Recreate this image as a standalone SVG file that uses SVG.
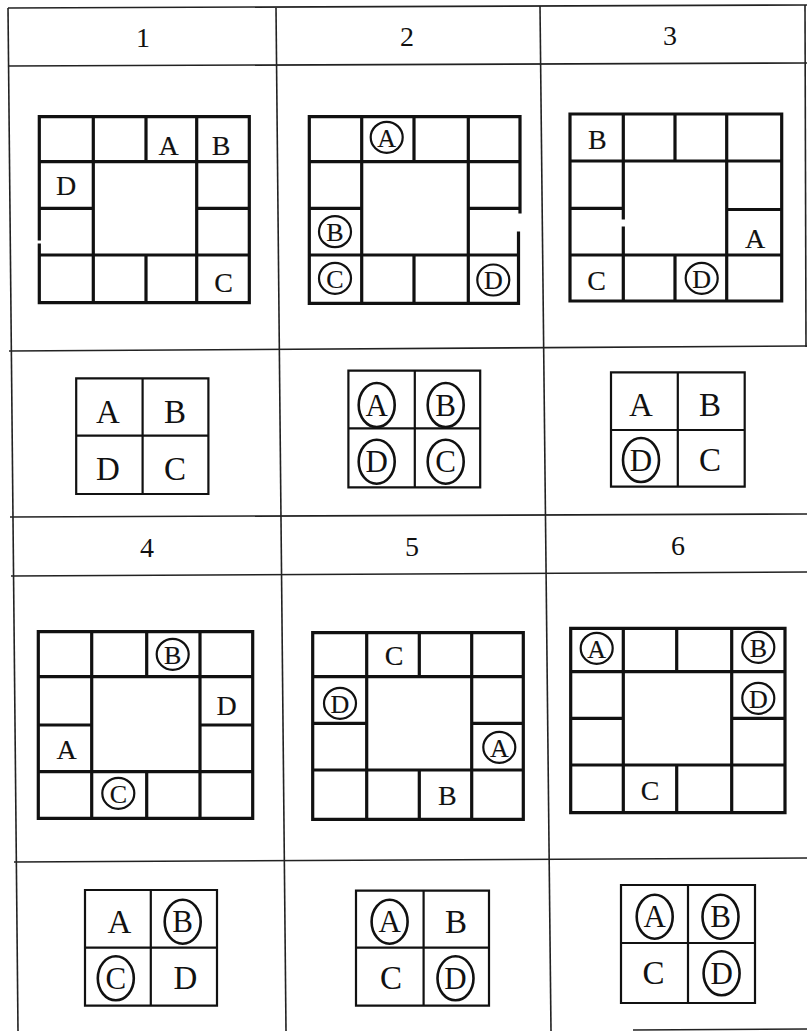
<svg xmlns="http://www.w3.org/2000/svg" width="807" height="1032" viewBox="0 0 807 1032">
<style>
.tbl{fill:none;stroke:#222;stroke-width:1.6}
.big{fill:none;stroke:#111;stroke-width:3.2;stroke-linecap:square}
.sm{fill:none;stroke:#111;stroke-width:2.2}
.hd{font-family:"Liberation Serif",serif;font-size:28px;fill:#111;text-anchor:middle}
.lt{font-family:"Liberation Serif",serif;font-size:28px;fill:#111;stroke:#111;stroke-width:0.15;text-anchor:middle}
.lc{font-family:"Liberation Serif",serif;font-size:26px;fill:#111;stroke:#111;stroke-width:0.15;text-anchor:middle}
.ls{font-family:"Liberation Serif",serif;font-size:33px;fill:#111;text-anchor:middle}
.lsc{font-family:"Liberation Serif",serif;font-size:31px;fill:#111;text-anchor:middle}
.cb{fill:none;stroke:#111;stroke-width:2.2}
.cs{fill:none;stroke:#111;stroke-width:2.6}
</style>
<rect width="807" height="1032" fill="#fff"/>
<g id="table" class="tbl">
<path d="M8 8 L18 1031"/>
<path d="M8 8 L807 5"/>
<path d="M8 66 L807 63"/>
<path d="M9 351 L807 346"/>
<path d="M10 517 L807 514"/>
<path d="M11 576 L807 572"/>
<path d="M14 862 L807 858"/>
<path d="M633 1030 L807 1029"/>
<path d="M276 8 L286 1031"/>
<path d="M540 6 L551 1031"/>
<path d="M805 5 L806 347"/>
</g>
<g id="headers">
<text class="hd" x="143" y="47">1</text>
<text class="hd" x="407" y="46">2</text>
<text class="hd" x="670" y="45">3</text>
<text class="hd" x="147" y="557">4</text>
<text class="hd" x="412" y="556">5</text>
<text class="hd" x="678" y="555">6</text>
</g>
<g id="grid1">
<path class="big" d="M39.3 239 V116.7 H249.3 V302.7 H39.3 V245 M93.3 116.7 V302.7 M196.7 116.7 V302.7 M39.3 161.7 H249.3 M39.3 255 H249.3 M146 116.7 V161.7 M146 255 V302.7 M39.3 208.3 H93.3 M196.7 208.3 H249.3"/>
<text class="lt" x="168.5" y="154.5">A</text>
<text class="lt" x="221" y="154.5">B</text>
<text class="lt" x="66" y="194.5">D</text>
<text class="lt" x="223.5" y="291.5">C</text>
</g>
<g id="grid2">
<path class="big" d="M520 212 V116.7 H309.3 V303.3 H518.5 V233 M361.7 116.7 V303.3 M468.3 116.7 V303.3 M309.3 161.7 H520 M309.3 255 H518.5 M414 116.7 V161.7 M414 255 V303.3 M309.3 208.3 H361.7 M468.3 208.3 H520"/>
<ellipse class="cb" cx="386.7" cy="137.3" rx="16" ry="15.5"/>
<text class="lc" x="386.7" y="146.5">A</text>
<ellipse class="cb" cx="335" cy="231.7" rx="16" ry="15.5"/>
<text class="lc" x="335" y="240.9">B</text>
<ellipse class="cb" cx="335" cy="278.3" rx="16" ry="15.5"/>
<text class="lc" x="335" y="287.5">C</text>
<ellipse class="cb" cx="493.3" cy="280" rx="16" ry="15.5"/>
<text class="lc" x="493.3" y="289.2">D</text>
</g>
<g id="grid3">
<path class="big" d="M570 114 H781.7 V301 H570 Z M623.3 114 V218 M623.3 228 V301 M726.7 114 V301 M570 161 H781.7 M570 255 H781.7 M675 114 V161 M675 255 V301 M570 208.3 H623.3 M726.7 209.5 H781.7"/>
<text class="lt" x="597.3" y="148.5">B</text>
<text class="lt" x="755" y="247.5">A</text>
<text class="lt" x="596.7" y="289.5">C</text>
<ellipse class="cb" cx="701.7" cy="278.3" rx="16" ry="15.5"/>
<text class="lc" x="701.7" y="287.5">D</text>
</g>
<g id="grid4">
<path class="big" d="M38.3 631.7 H252.7 V818.3 H38.3 Z M91.7 631.7 V818.3 M200 631.7 V818.3 M38.3 676.7 H252.7 M38.3 771.7 H252.7 M146.7 631.7 V676.7 M146.7 771.7 V818.3 M38.3 725 H91.7 M200 725 H252.7"/>
<ellipse class="cb" cx="172.7" cy="654.3" rx="16" ry="15.5"/>
<text class="lc" x="172.7" y="663.5">B</text>
<text class="lt" x="226.7" y="714.5">D</text>
<text class="lt" x="66.7" y="758.5">A</text>
<ellipse class="cb" cx="118.3" cy="793.3" rx="16" ry="15.5"/>
<text class="lc" x="118.3" y="802.5">C</text>
</g>
<g id="grid5">
<path class="big" d="M312.7 632.7 H523.3 V819.3 H312.7 Z M366.7 632.7 V819.3 M471.7 632.7 V819.3 M312.7 676.7 H523.3 M312.7 770 H523.3 M419.3 632.7 V676.7 M419.3 770 V819.3 M312.7 723.3 H366.7 M471.7 723.3 H523.3"/>
<text class="lt" x="394" y="664.5">C</text>
<ellipse class="cb" cx="340" cy="703.3" rx="16" ry="15.5"/>
<text class="lc" x="340" y="712.5">D</text>
<ellipse class="cb" cx="499.3" cy="747.3" rx="16" ry="15.5"/>
<text class="lc" x="499.3" y="756.5">A</text>
<text class="lt" x="447.3" y="804.5">B</text>
</g>
<g id="grid6">
<path class="big" d="M570.7 628.3 H785 V812.7 H570.7 Z M623.3 628.3 V812.7 M731.7 628.3 V812.7 M570.7 671.7 H785 M570.7 765 H785 M676.7 628.3 V671.7 M676.7 765 V812.7 M570.7 718.3 H623.3 M731.7 718.3 H785"/>
<ellipse class="cb" cx="596.7" cy="648.3" rx="16" ry="15.5"/>
<text class="lc" x="596.7" y="657.5">A</text>
<ellipse class="cb" cx="758.3" cy="647.3" rx="16" ry="15.5"/>
<text class="lc" x="758.3" y="656.5">B</text>
<ellipse class="cb" cx="758.3" cy="698.3" rx="16" ry="15.5"/>
<text class="lc" x="758.3" y="707.5">D</text>
<text class="lt" x="650" y="799.5">C</text>
</g>
<g id="small1">
<path class="sm" d="M76.2 378.3 H208.4 V494 H76.2 Z M142.6 378.3 V494 M76.2 435.7 H208.4"/>
<text class="ls" x="108" y="422.5">A</text>
<text class="ls" x="175" y="422.5">B</text>
<text class="ls" x="108" y="479.5">D</text>
<text class="ls" x="175" y="479.5">C</text>
</g>
<g id="small2">
<path class="sm" d="M348.4 370.7 H480.2 V487.3 H348.4 Z M414.8 370.7 V487.3 M348.4 428.3 H480.2"/>
<ellipse class="cs" cx="376.7" cy="405" rx="18" ry="22"/>
<text class="lsc" x="376.7" y="415.5">A</text>
<ellipse class="cs" cx="445.7" cy="405" rx="18" ry="22"/>
<text class="lsc" x="445.7" y="415.5">B</text>
<ellipse class="cs" cx="376.7" cy="461.7" rx="18" ry="22"/>
<text class="lsc" x="376.7" y="472.2">D</text>
<ellipse class="cs" cx="445.7" cy="461.7" rx="18" ry="22"/>
<text class="lsc" x="445.7" y="472.2">C</text>
</g>
<g id="small3">
<path class="sm" d="M611 372.3 H744.7 V486.7 H611 Z M677.8 372.3 V486.7 M611 430 H744.7"/>
<text class="ls" x="641" y="416">A</text>
<text class="ls" x="710" y="416">B</text>
<ellipse class="cs" cx="641" cy="460" rx="18" ry="22"/>
<text class="lsc" x="641" y="470.5">D</text>
<text class="ls" x="710" y="471">C</text>
</g>
<g id="small4">
<path class="sm" d="M85 890 H217 V1005.7 H85 Z M150.8 890 V1005.7 M85 947.7 H217"/>
<text class="ls" x="119.4" y="932.7">A</text>
<ellipse class="cs" cx="182.7" cy="921.7" rx="18" ry="22"/>
<text class="lsc" x="182.7" y="932.2">B</text>
<ellipse class="cs" cx="115.8" cy="978.3" rx="18" ry="22"/>
<text class="lsc" x="115.8" y="988.8">C</text>
<text class="ls" x="185.3" y="989.3">D</text>
</g>
<g id="small5">
<path class="sm" d="M356 890.7 H489 V1005.7 H356 Z M423.6 890.7 V1005.7 M356 947.7 H489"/>
<ellipse class="cs" cx="389.6" cy="921.7" rx="18" ry="22"/>
<text class="lsc" x="389.6" y="932.2">A</text>
<text class="ls" x="456" y="932.7">B</text>
<text class="ls" x="391" y="989.3">C</text>
<ellipse class="cs" cx="455.5" cy="978.3" rx="18" ry="22"/>
<text class="lsc" x="455.5" y="988.8">D</text>
</g>
<g id="small6">
<path class="sm" d="M621 885 H755 V1003 H621 Z M688 885 V1003 M621 943 H755"/>
<ellipse class="cs" cx="654.7" cy="916.7" rx="18" ry="22"/>
<text class="lsc" x="654.7" y="927.2">A</text>
<ellipse class="cs" cx="720.5" cy="916.7" rx="18" ry="22"/>
<text class="lsc" x="720.5" y="927.2">B</text>
<text class="ls" x="653.6" y="984.3">C</text>
<ellipse class="cs" cx="721.6" cy="973.3" rx="18" ry="22"/>
<text class="lsc" x="721.6" y="983.8">D</text>
</g>
</svg>
